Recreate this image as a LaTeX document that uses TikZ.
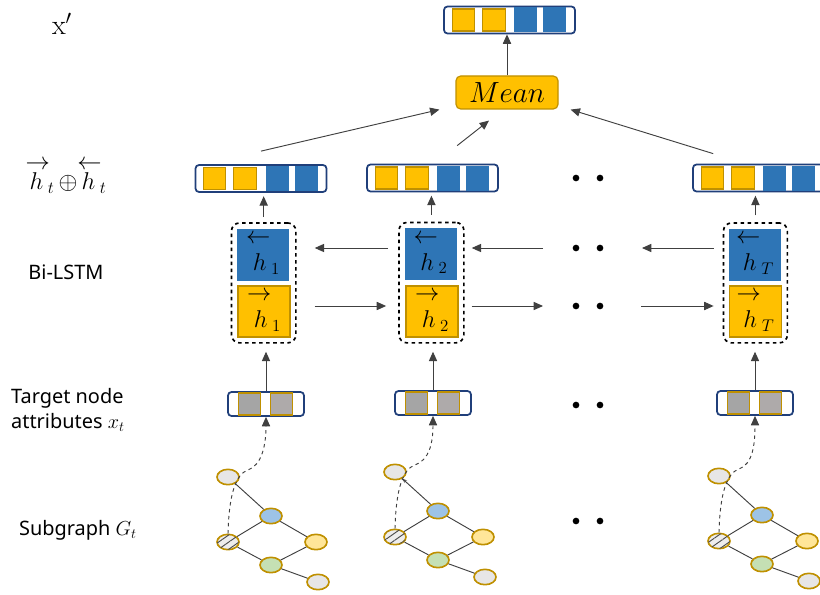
\documentclass[tikz,border=0pt]{standalone}
\usepackage{fontspec}
\newfontfamily\labelfont{Noto Sans}
\usetikzlibrary{arrows.meta,patterns.meta,positioning,fit,shapes.geometric}

\definecolor{gold}{HTML}{FFC000}
\definecolor{goldline}{HTML}{BF9000}
\definecolor{steel}{HTML}{2E75B6}
\definecolor{navy}{HTML}{203F7A}
\definecolor{cellgray}{HTML}{A5A5A5}
\definecolor{cellgrayb}{HTML}{AEAAAA}
\definecolor{nodegray}{HTML}{E7E6E6}
\definecolor{nodeblue}{HTML}{9DC3E6}
\definecolor{nodeyellow}{HTML}{FFE699}
\definecolor{nodegreen}{HTML}{C5E0B4}

\tikzset{
  vecbox/.style={draw=navy,line width=1.5pt,rounded corners=3pt,fill=white,
    minimum width=39.3mm,minimum height=8.1mm,inner sep=0pt},
  attrbox/.style={draw=navy,line width=1.5pt,rounded corners=3pt,fill=white,
    minimum width=22.8mm,minimum height=7.2mm,inner sep=0pt},
  ycell/.style={fill=gold,draw=goldline,line width=1pt},
  gcell/.style={draw=goldline,line width=1pt},
  backbox/.style={fill=steel,minimum width=15.6mm,minimum height=15.6mm,inner sep=0pt,
    align=left,font=\fontsize{22}{23}\selectfont},
  fwdbox/.style={fill=gold,draw=goldline,line width=1pt,minimum width=15.6mm,
    minimum height=15.3mm,inner sep=0pt,align=left,font=\fontsize{22}{23}\selectfont},
  lstmgroup/.style={draw,dashed,line width=1.4pt,rounded corners=7pt,inner sep=1.6mm},
  meanbox/.style={fill=gold,draw=goldline,line width=1pt,rounded corners=4pt,
    minimum width=30.6mm,minimum height=9.9mm,font=\fontsize{23}{26}\selectfont},
  gnode/.style={ellipse,draw=goldline,line width=1.4pt,minimum width=6.6mm,
    minimum height=4.6mm,inner sep=0pt},
  hatched/.style={fill=nodegray!70,postaction={pattern={Lines[angle=35,distance=5pt,line width=0.8pt]},
    pattern color=black!70}},
  gedge/.style={draw=black!75,line width=0.8pt},
  arr/.style={draw=black!75,line width=0.8pt,-{Triangle[length=8pt,width=7pt]}},
  sidelabel/.style={font=\labelfont\fontsize{17}{21}\selectfont},
}

% arrow over h with index, as in the boxes
\newcommand\hstate[2]{$#1$\\$\;h_{\;#2}$}
\newcommand\hstack[1]{\shortstack[l]{$#1$\\$\,h_{\;t}$}}

% cells of a concatenated vector
\newcommand\concatcells[1]{%
  \foreach \a/\b in {9/31,39/62}
    \filldraw[ycell] ([xshift=\a*0.3mm,yshift=-3.3mm]#1.west) rectangle ([xshift=\b*0.3mm,yshift=3.3mm]#1.west);
  \foreach \a/\b in {71/94,100/123}
    \fill[steel] ([xshift=\a*0.3mm,yshift=-3.75mm]#1.west) rectangle ([xshift=\b*0.3mm,yshift=3.75mm]#1.west);
}
% cells of an attribute vector
\newcommand\attrcells[1]{%
  \filldraw[gcell,fill=cellgray] ([xshift=3.3mm,yshift=-3.3mm]#1.west) rectangle ([xshift=9.9mm,yshift=3.3mm]#1.west);
  \filldraw[gcell,fill=cellgrayb] ([xshift=12.9mm,yshift=-3.3mm]#1.west) rectangle ([xshift=19.5mm,yshift=3.3mm]#1.west);
}
% small subgraph, #1 name prefix, #2/#3 shift, #4 extra style of one edge, #5 attribute vector
\newcommand\subgraph[5]{%
  \begin{scope}[shift={(#2,#3)}]
    \node[gnode,fill=nodegray] (#1a) at (228,477) {};
    \node[gnode,fill=nodeblue] (#1b) at (271,516) {};
    \node[gnode,hatched] (#1c) at (228,542) {};
    \node[gnode,fill=nodeyellow] (#1d) at (316,542) {};
    \node[gnode,fill=nodegreen] (#1e) at (271,565) {};
    \node[gnode,fill=nodegray] (#1f) at (318,582) {};
    \coordinate (#1k) at (248,470);
    \draw[gedge] (#1c) -- (#1b) (#1b) -- (#1d) (#1c) -- (#1e) (#1e) -- (#1d) (#1e) -- (#1f);
    \draw[gedge,#4] (#1b) -- (#1a);
    \draw[arr,dashed] (#1c.north) .. controls +(1,-40) and +(-12,4) .. (#1k)
      .. controls +(14,-5) and +(0,28) .. (#5.south);
  \end{scope}}

\begin{document}
\begin{tikzpicture}[x=0.3mm,y=-0.3mm]
\useasboundingbox (0,0) rectangle (820,595);

% side labels
\node (xlbl) at (62,24) {\fontsize{24}{26}\selectfont$\mathrm{x}'$};
\node (hlbl) at (66,177) {\fontsize{22}{24}\selectfont\hstack{\rightarrow}$\,\oplus$\hstack{\leftarrow}};
\node[sidelabel] (lstmlbl) at (66,272) {Bi-LSTM};
\node[sidelabel,align=left,anchor=west] (attrlbl) at (7,410) {Target node\\attributes $x_t$};
\node[sidelabel,anchor=west] (sglbl) at (15,530) {Subgraph $G_t$};

% output
\node[vecbox] (out) at (509.5,20) {};
\concatcells{out}
\node[meanbox] (mean) at (507,92.5) {$Mean$};
\draw[arr] (mean.north) -- (mean.north |- out.south);

% concatenated states
\node[vecbox] (v1) at (261,178.5) {};
\node[vecbox] (v2) at (432.5,178) {};
\node[vecbox] (v3) at (758.5,178) {};
\concatcells{v1}
\concatcells{v2}
\concatcells{v3}
\draw[arr] ([yshift=3.9mm]v1.north) -- ([xshift=-4.8mm]mean.south west);
\draw[arr] ([xshift=7.4mm,yshift=5.4mm]v2.north) -- ([xshift=-5.4mm,yshift=-3.3mm]mean.south);
\draw[arr] ([xshift=-13.6mm,yshift=3mm]v3.north) -- ([xshift=3.6mm]mean.south east);

% Bi-LSTM cells
\node[backbox] (b1) at (263,254.5) {\hstate{\leftarrow}{1}};
\node[fwdbox] (f1) at (264,311.5) {\hstate{\rightarrow}{1}};
\node[backbox] (b2) at (430.5,254) {\hstate{\leftarrow}{2}};
\node[fwdbox] (f2) at (432,311.5) {\hstate{\rightarrow}{2}};
\node[backbox] (b3) at (755,254.5) {\hstate{\leftarrow}{T}};
\node[fwdbox] (f3) at (755.5,311.5) {\hstate{\rightarrow}{T}};
\node[lstmgroup,fit=(b1)(f1)] (g1) {};
\node[lstmgroup,fit=(b2)(f2)] (g2) {};
\node[lstmgroup,fit=(b3)(f3)] (g3) {};

% dots
\foreach \y [count=\i] in {178,248,306,405,521}{
  \fill (576,\y) circle (1mm) (600,\y) circle (1mm);
  \coordinate (dots\i) at (588,\y);
}

\draw[arr,shorten <=1.5mm,shorten >=1mm] (g1.north) -- (g1.north |- v1.south);
\draw[arr,shorten <=2mm,shorten >=1mm] (g2.north) -- (g2.north |- v2.south);
\draw[arr,shorten <=2mm,shorten >=1mm] (g3.north) -- (g3.north |- v3.south);

% backward direction
\draw[arr,shorten <=2.7mm,shorten >=16.2mm] (g3.west |- dots2) -- (dots2);
\draw[arr,shorten <=13.5mm,shorten >=2.1mm] (dots2) -- (g2.east |- dots2);
\draw[arr,shorten <=3mm,shorten >=5.4mm] (g2.west |- dots2) -- (g1.east |- dots2);
% forward direction
\draw[arr,shorten <=5.4mm,shorten >=3.6mm] (g1.east |- dots3) -- (g2.west |- dots3);
\draw[arr,shorten <=2.1mm,shorten >=13.5mm] (g2.east |- dots3) -- (dots3);
\draw[arr,shorten <=15.9mm,shorten >=2.7mm] (dots3) -- (g3.west |- dots3);

% target node attributes
\node[attrbox] (a1) at (266,404) {};
\node[attrbox] (a2) at (433,403) {};
\node[attrbox] (a3) at (755,403) {};
\attrcells{a1}
\attrcells{a2}
\attrcells{a3}
\draw[arr,shorten >=2.4mm] (a1.north) -- (a1.north |- g1.south);
\draw[arr,shorten >=2.4mm] (a2.north) -- (a2.north |- g2.south);
\draw[arr,shorten >=2.4mm] (a3.north) -- (a3.north |- g3.south);

% subgraphs
\subgraph{s1}{0}{0}{}{a1}
\subgraph{s2}{167}{-5}{-{Stealth[length=4pt,width=3pt]}}{a2}
\subgraph{s3}{491}{-1}{}{a3}
\end{tikzpicture}
\end{document}
